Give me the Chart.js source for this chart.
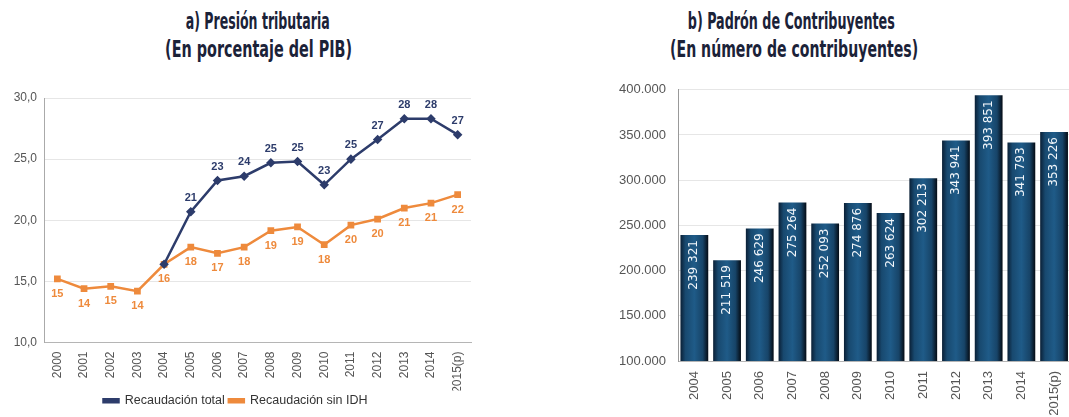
<!DOCTYPE html>
<html><head><meta charset="utf-8">
<script src="https://cdn.jsdelivr.net/npm/chart.js@4.4.1/dist/chart.umd.min.js"></script>
<style>
html,body{margin:0;padding:0;background:#fff;width:1069px;height:417px;overflow:hidden;position:relative;}
.t{position:absolute;white-space:nowrap;font-family:"DejaVu Sans Condensed","DejaVu Sans",sans-serif;font-weight:700;font-size:23px;line-height:26px;color:#1b2238;transform-origin:center center;}
#c1wrap{position:absolute;left:0;top:70px;width:520px;height:347px;}
#c2wrap{position:absolute;left:600px;top:70px;width:480px;height:347px;}
</style></head><body>
<div class="t" data-cx="258" data-cy="21" data-w="144">a) Presión tributaria</div>
<div class="t" data-cx="259" data-cy="49" data-w="187">(En porcentaje del PIB)</div>
<div class="t" data-cx="791" data-cy="21" data-w="207">b) Padrón de Contribuyentes</div>
<div class="t" data-cx="794" data-cy="49" data-w="248">(En número de contribuyentes)</div>
<div id="c1wrap"><canvas id="c1"></canvas></div>
<div id="c2wrap"><canvas id="c2"></canvas></div>
<script>
// ---- Data: chart a) Presión tributaria (% del PIB)
const years1 = ['2000','2001','2002','2003','2004','2005','2006','2007','2008','2009','2010','2011','2012','2013','2014','2015(p)'];
const recaudacionTotal = [null,null,null,null,16.4,20.7,23.25,23.6,24.7,24.8,22.9,25.0,26.6,28.3,28.3,27.0];
const recaudacionSinIDH = [15.2,14.4,14.6,14.2,16.4,17.8,17.3,17.8,19.15,19.45,18.0,19.6,20.1,21.0,21.4,22.1];
const yMin1 = 10, yMax1 = 30, yStep1 = 5;
const seriesNames1 = ['Recaudación total','Recaudación sin IDH'];

// ---- Data: chart b) Padrón de contribuyentes
const years2 = ['2004','2005','2006','2007','2008','2009','2010','2011','2012','2013','2014','2015(p)'];
const contribuyentes = [239321,211519,246629,275264,252093,274876,263624,302213,343941,393851,341793,353226];
const yMin2 = 100000, yMax2 = 400000, yStep2 = 50000;

// titles: condense to width
document.querySelectorAll('.t').forEach(el=>{
  const w = el.getBoundingClientRect().width, h = el.getBoundingClientRect().height;
  const s = (+el.dataset.w)/w;
  el.style.left = (+el.dataset.cx - w/2)+'px';
  el.style.top = (+el.dataset.cy - h/2)+'px';
  el.style.transform = 'scaleX('+s+')';
});

const FONT = '"Liberation Sans", Arial, sans-serif';
Chart.defaults.font.family = FONT;
Chart.defaults.color = '#555';

const lineLabels = {
  id:'lineLabels',
  afterDatasetsDraw(chart){
    const ctx = chart.ctx;
    ctx.save();
    ctx.font = 'bold 11px '+FONT;
    ctx.textAlign='center'; ctx.textBaseline='middle';
    chart.data.datasets.forEach((ds,di)=>{
      const meta = chart.getDatasetMeta(di);
      meta.data.forEach((pt,i)=>{
        const v = ds.data[i];
        if(v==null) return;
        if(ds.skipIfEqual){
          const other = chart.data.datasets[ds.skipIfEqual-1].data[i];
          if(other===v) return;
        }
        ctx.fillStyle = ds.labelColor;
        ctx.fillText(String(Math.round(v)), pt.x, pt.y + ds.labelDy);
      });
    });
    ctx.restore();
  }
};

new Chart(document.getElementById('c1'),{
  type:'line',
  data:{labels:years1,datasets:[
    {label:seriesNames1[0],data:recaudacionTotal,borderColor:'#2d3c6b',backgroundColor:'#2d3c6b',borderWidth:2.5,
     pointStyle:'rectRot',pointRadius:3,pointBackgroundColor:'#2d3c6b',tension:0,labelDy:-14,labelColor:'#2d3c6b',skipIfEqual:2,order:1},
    {label:seriesNames1[1],data:recaudacionSinIDH,borderColor:'#ee8a3c',backgroundColor:'#ee8a3c',borderWidth:2.5,
     pointStyle:'rect',pointRadius:3,pointBackgroundColor:'#ee8a3c',tension:0,labelDy:15,labelColor:'#ee8a3c',order:2}
  ]},
  options:{
    responsive:true,maintainAspectRatio:false,animation:false,
    layout:{padding:{top:28,right:49,left:0,bottom:0}},
    plugins:{
      legend:{position:'bottom',labels:{boxWidth:15,boxHeight:3,padding:4,color:'#333',font:{size:12.5,family:FONT}}},
      tooltip:{enabled:false}
    },
    scales:{
      x:{offset:true,grid:{display:false,drawTicks:false},border:{display:true,color:'#b5b5b5'},
         ticks:{minRotation:90,maxRotation:90,autoSkip:false,padding:9,color:'#555',font:{size:12}},
         afterFit(s){s.height=48;}},
      y:{min:yMin1,max:yMax1,ticks:{stepSize:yStep1,padding:7,color:'#555',font:{size:12},
           callback:v=>v.toFixed(1).replace('.',',')},
         grid:{color:'#e6e6e6',drawTicks:false},border:{color:'#aaa'},
         afterFit(s){s.width=44;}}
    }
  },
  plugins:[lineLabels]
});

const barLabels = {
  id:'barLabels',
  afterDatasetsDraw(chart){
    const ctx = chart.ctx;
    const meta = chart.getDatasetMeta(0);
    ctx.save();
    ctx.font = '12px "DejaVu Sans", sans-serif';
    ctx.fillStyle = '#f2f6fa';
    ctx.textAlign='right'; ctx.textBaseline='middle';
    meta.data.forEach((bar,i)=>{
      const v = chart.data.datasets[0].data[i];
      const s = String(v).replace(/\B(?=(\d{3})+(?!\d))/g,' ');
      ctx.save();
      ctx.translate(bar.x, bar.y+5);
      ctx.rotate(-Math.PI/2);
      ctx.fillText(s,0,0);
      ctx.restore();
    });
    ctx.restore();
  }
};

new Chart(document.getElementById('c2'),{
  type:'bar',
  data:{labels:years2,datasets:[{
    label:'Contribuyentes',data:contribuyentes,categoryPercentage:1,barPercentage:0.85,
    backgroundColor:(c)=>{
      const chart=c.chart;
      if(c.dataIndex==null||!chart.chartArea) return '#1b4f7a';
      const xs=chart.scales.x; const cx=xs.getPixelForValue(c.dataIndex);
      const w=xs.width/years2.length*0.85;
      const g=chart.ctx.createLinearGradient(cx-w/2,0,cx+w/2,0);
      g.addColorStop(0,'#0a1f35');g.addColorStop(0.18,'#18496f');g.addColorStop(0.5,'#1f5b88');
      g.addColorStop(0.8,'#174468');g.addColorStop(1,'#040b14');
      return g;
    }
  }]},
  options:{
    responsive:true,maintainAspectRatio:false,animation:false,
    layout:{padding:{top:18,right:8,left:0,bottom:0}},
    plugins:{legend:{display:false},tooltip:{enabled:false}},
    scales:{
      x:{grid:{display:false,drawTicks:false},border:{display:true,color:'#b5b5b5'},
         ticks:{minRotation:90,maxRotation:90,autoSkip:false,padding:10,color:'#555',font:{size:13}},
         afterFit(s){s.height=56;}},
      y:{min:yMin2,max:yMax2,ticks:{stepSize:yStep2,padding:12,color:'#555',font:{size:13},
           callback:v=>String(v).replace(/\B(?=(\d{3})+(?!\d))/g,'.')},
         grid:{color:'#e6e6e6',drawTicks:false},border:{color:'#999'},
         afterFit(s){s.width=78;}}
    }
  },
  plugins:[barLabels]
});
</script>
</body></html>
